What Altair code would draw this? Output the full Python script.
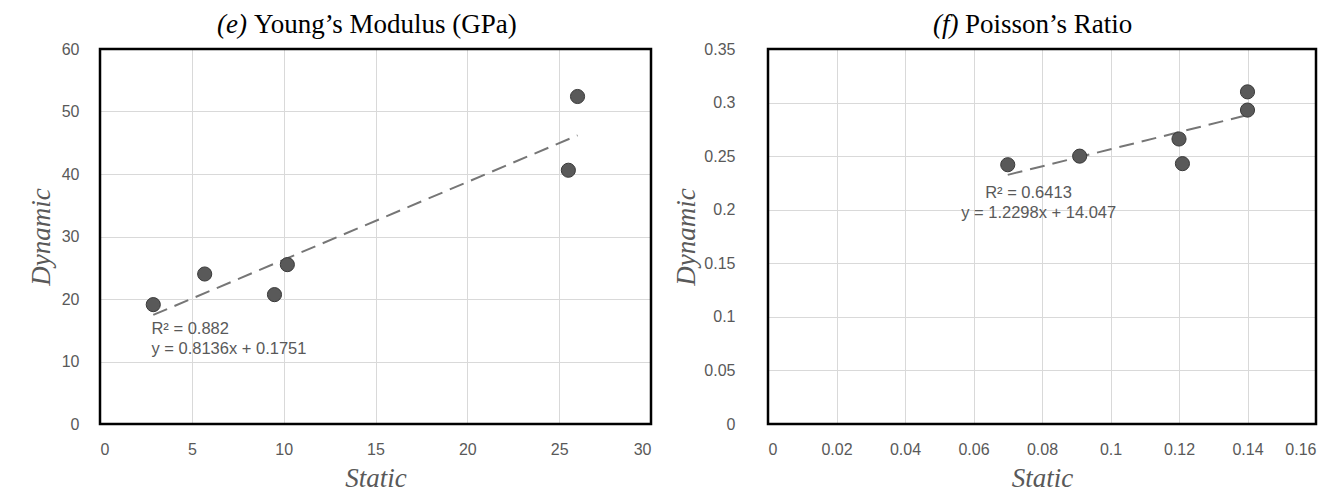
import altair as alt
import pandas as pd

# ---- data ----
# Panel (e): Young's Modulus (GPa)
e_static = [2.9, 5.7, 9.5, 10.2, 25.5, 26.0]
e_dynamic = [19.1, 24.0, 20.7, 25.5, 40.6, 52.4]
e_x_ticks = [0, 5, 10, 15, 20, 25, 30]
e_y_ticks = [0, 10, 20, 30, 40, 50, 60]
e_labels = ["R² = 0.882", "y = 0.8136x + 0.1751"]
e_label_x = [2.8, 2.8]
e_label_y = [15.2, 12.05]

# Panel (f): Poisson's Ratio
f_static = [0.070, 0.091, 0.120, 0.121, 0.140, 0.140]
f_dynamic = [0.242, 0.250, 0.266, 0.243, 0.310, 0.293]
f_x_ticks = [0, 0.02, 0.04, 0.06, 0.08, 0.1, 0.12, 0.14, 0.16]
f_y_ticks = [0, 0.05, 0.1, 0.15, 0.2, 0.25, 0.3, 0.35]
f_labels = ["R² = 0.6413", "y = 1.2298x + 14.047"]
f_label_x = [0.0634, 0.0564]
f_label_y = [0.2155, 0.197]

GRAY = "#595959"
TITLE_SIZE = 27
TITLE_Y = -16


def panel(static, dynamic, xt, yt, labels, lx, ly, tag, title, w, h,
          tag_x, title_x, ylab_pad, ytitle_pad):
    df = pd.DataFrame({"Static": static, "Dynamic": dynamic})
    xs = alt.Scale(domain=[xt[0], xt[-1]], nice=False, zero=False)
    ys = alt.Scale(domain=[yt[0], yt[-1]], nice=False, zero=False)
    x = alt.X("Static:Q", scale=xs,
              axis=alt.Axis(values=xt, title="Static", format="~g",
                            labelPadding=17, titlePadding=8))
    y = alt.Y("Dynamic:Q", scale=ys,
              axis=alt.Axis(values=yt, title="Dynamic", format="~g",
                            labelPadding=ylab_pad, titlePadding=ytitle_pad))
    base = alt.Chart(df)
    trend = base.transform_regression("Static", "Dynamic").mark_line(
        color="#767676", strokeWidth=2, strokeDash=[15, 8]
    ).encode(x=x, y=y)
    pts = base.mark_circle(
        size=200, color=GRAY, stroke="#3a3a3a", strokeWidth=1, opacity=1
    ).encode(x=x, y=y)
    ann = alt.Chart(pd.DataFrame({"Static": lx, "Dynamic": ly, "t": labels})).mark_text(
        align="left", baseline="middle", font="Liberation Sans", fontSize=16.5, color=GRAY
    ).encode(
        x=alt.X("Static:Q", scale=xs), y=alt.Y("Dynamic:Q", scale=ys), text="t:N"
    )
    one = pd.DataFrame({"f": [0]})
    frame = alt.Chart(one).mark_rect(
        filled=False, color="black", strokeWidth=2.5
    ).encode(x=alt.value(0), x2=alt.value(w), y=alt.value(0), y2=alt.value(h))
    t_tag = alt.Chart(one).mark_text(
        text=tag, align="left", baseline="alphabetic", font="Liberation Serif",
        fontStyle="italic", fontSize=TITLE_SIZE, color="black"
    ).encode(x=alt.value(tag_x), y=alt.value(TITLE_Y))
    t_main = alt.Chart(one).mark_text(
        text=title, align="left", baseline="alphabetic", font="Liberation Serif",
        fontSize=TITLE_SIZE, color="black"
    ).encode(x=alt.value(title_x), y=alt.value(TITLE_Y))
    return alt.layer(trend, pts, ann, frame, t_tag, t_main).properties(width=w, height=h)


left = panel(e_static, e_dynamic, e_x_ticks, e_y_ticks, e_labels, e_label_x, e_label_y,
             "(e)", "Young’s Modulus (GPa)", 551, 375, 117, 154, 21, 6)
right = panel(f_static, f_dynamic, f_x_ticks, f_y_ticks, f_labels, f_label_x, f_label_y,
              "(f)", "Poisson’s Ratio", 548, 375, 165, 197, 33, 3)

chart = alt.hconcat(left, right, spacing=117, bounds="flush").properties(
    padding={"left": 19, "top": 3, "right": 0, "bottom": 0},
    background="white",
).configure_view(strokeWidth=0).configure_axis(
    labelFont="Liberation Sans", labelFontSize=16, labelColor=GRAY,
    titleFont="Liberation Serif", titleFontStyle="italic", titleFontSize=27,
    titleFontWeight="normal", titleColor=GRAY,
    gridColor="#d9d9d9", gridWidth=1, domain=False, ticks=False, tickSize=0,
)

chart.save("out.html", embed_options={"renderer": "svg", "actions": False})
